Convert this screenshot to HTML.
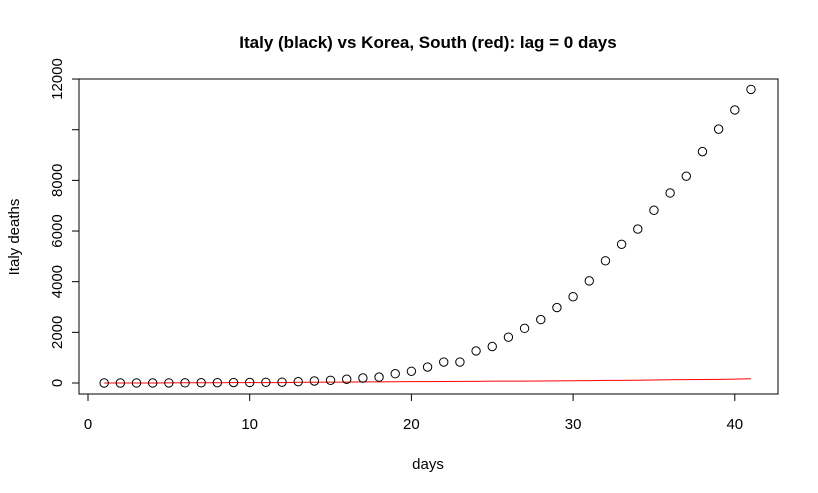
<!DOCTYPE html>
<html><head><meta charset="utf-8"><style>body{margin:0;background:#fff}svg{display:block;font-family:"Liberation Sans",sans-serif}</style></head>
<body>
<svg id="c" width="818" height="493">
<text x="428" y="48" text-anchor="middle" font-weight="bold" font-size="17">Italy (black) vs Korea, South (red): lag = 0 days</text>
<rect x="79" y="79" width="699" height="315" fill="none" stroke="#000"/>
<text x="428" y="469" text-anchor="middle" font-size="15">days</text>
<text transform="translate(19,237) rotate(-90)" text-anchor="middle" font-size="15">Italy deaths</text>
<g id="g"></g>
</svg>
<script>
const days=[];for(let i=1;i<=41;i++)days.push(i);
const italy=[0,0,1,2,3,7,10,12,17,21,29,34,52,79,107,148,197,233,366,463,631,827,827,1266,1441,1809,2158,2503,2978,3405,4032,4825,5476,6077,6820,7503,8165,9134,10023,10779,11591];
const korea=[0,1,2,2,6,8,10,12,13,13,16,17,28,28,35,35,42,44,50,53,54,60,66,66,72,75,75,81,84,91,94,102,104,111,120,126,131,139,144,152,170];
const xTicks=[0,10,20,30,40];
const yTicks=[0,2000,4000,6000,8000,10000,12000];
const yLabels=["0","2000","4000","6000","8000","","12000"];
const X=v=>88+v*16.17, Y=v=>383-v*0.02533;
const g=document.getElementById('g'),NS='http://www.w3.org/2000/svg';
function mk(t,a){const e=document.createElementNS(NS,t);for(const k in a)e.setAttribute(k,a[k]);g.appendChild(e);return e;}
xTicks.forEach(t=>{
 const l=mk('line',{x1:X(t),x2:X(t),y1:394,y2:401,stroke:'#000'});
 
 
 const s=mk('text',{x:X(t),y:429,'text-anchor':'middle','font-size':15});s.textContent=t;
 
 
});
yTicks.forEach((t,i)=>{
 const l=mk('line',{x1:72,x2:79,y1:Y(t),y2:Y(t),stroke:'#000'});
 
 
 const s=mk('text',{transform:`translate(62,${Y(t)}) rotate(-90)`,'text-anchor':'middle','font-size':15});s.textContent=yLabels[i];
 
 
});
const p=mk('polyline',{points:days.map((d,i)=>X(d)+','+Y(korea[i])).join(' '),fill:'none',stroke:'#f00','stroke-width':1});


days.forEach((d,i)=>{
 const c=mk('circle',{cx:X(d),cy:Y(italy[i]),r:4.2,fill:'none',stroke:'#000'});
 
 
});
</script>
</body></html>
